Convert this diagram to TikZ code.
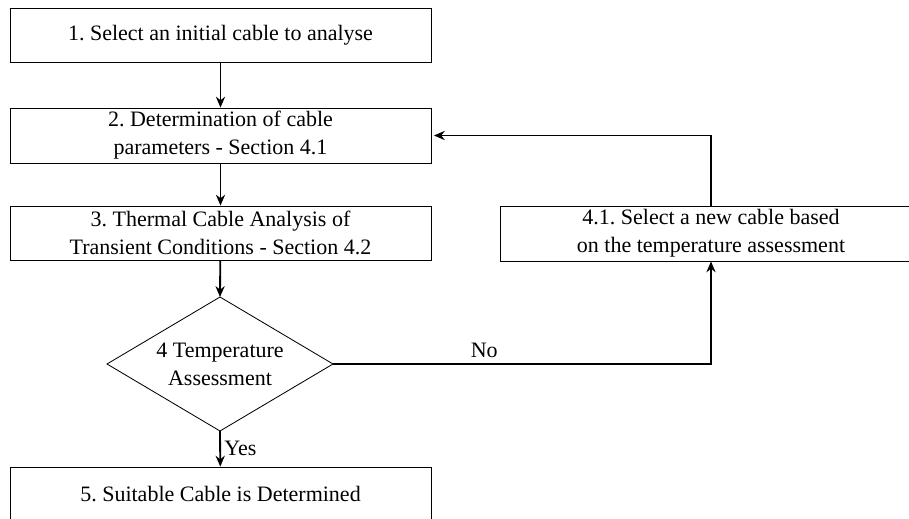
\documentclass[tikz,border=0pt]{standalone}
\usepackage{fontspec}
\setmainfont{Liberation Serif}
\usetikzlibrary{arrows.meta}
\begin{document}
\begin{tikzpicture}[x=0.6pt,y=-0.6pt,
  every node/.style={font=\fontsize{13.2}{16.8}\selectfont},
  stepbox/.style={draw, line width=0.5pt, rectangle, align=center, minimum width=252.6pt, inner sep=0pt},
  decisiontext/.style={align=center, inner sep=0pt},
  outline/.style={draw, line width=0.5pt},
  flow/.style={draw, line width=1.1pt, -{Stealth[length=6.5pt,width=5.5pt]}},
  lbl/.style={font=\fontsize{13.2}{16.8}\selectfont}]
\useasboundingbox (0,0) rectangle (909,519);
\node[stepbox, minimum height=32.4pt] (s1) at (220.5,35) {1.\ Select an initial cable to analyse};
\node[stepbox, minimum height=33pt] (s2) at (220.5,135.5) {2.\ Determination of cable\\parameters - Section 4.1};
\node[stepbox, minimum height=32.4pt] (s3) at (220.5,233) {3.\ Thermal Cable Analysis of\\Transient Conditions - Section 4.2};
\coordinate (d4n) at (220,297);
\coordinate (d4s) at (220,431);
\coordinate (d4e) at (333,364);
\coordinate (d4w) at (107,364);
\draw[outline] (d4n) -- (d4e) -- (d4s) -- (d4w) -- cycle;
\node[decisiontext] (d4) at (220,364) {4 Temperature\\Assessment};
\node[stepbox, minimum height=32.4pt] (s5) at (220.5,494) {5.\ Suitable Cable is Determined};
\node[stepbox, minimum height=33pt, minimum width=253.2pt] (s41) at (711,233.5) {4.1.\ Select a new cable based\\on the temperature assessment};
\coordinate (c1) at (711,364);
\coordinate (c2) at (711,135.5);
\draw[flow] (s1) -- (s2);
\draw[flow] (s2) -- (s3);
\draw[flow] (s3) -- (d4n);
\draw[flow] (d4s) -- node[lbl, right, inner sep=2pt] (yes) {Yes} (s5);
\draw[flow] (d4e) -- node[lbl, above, pos=0.4, inner sep=3pt] (no) {No} (c1) -- (s41.south);
\draw[flow, shorten >=1.5pt] (s41.north) -- (c2) -- (s2.east);
\end{tikzpicture}
\end{document}
